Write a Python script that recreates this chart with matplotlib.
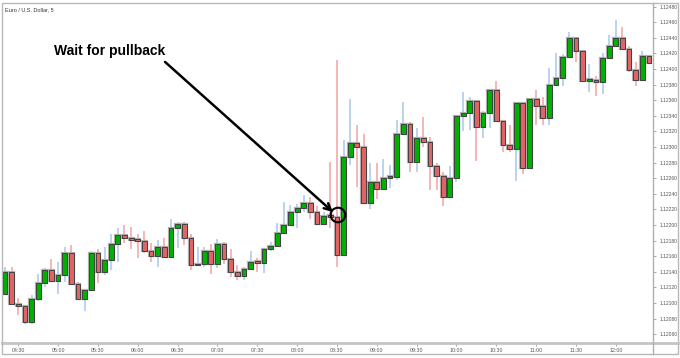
import matplotlib.pyplot as plt
from matplotlib.lines import Line2D
from matplotlib.patches import Rectangle
import numpy as np

# 5 minute EUR/USD candles, first bar 04:20
open_ = [1.12112, 1.12139, 1.12098, 1.12096, 1.12075, 1.12105, 1.12126, 1.12142, 1.12128, 1.12136,
         1.12164, 1.12124, 1.12105, 1.12117, 1.12164, 1.12139, 1.12155, 1.12175, 1.12187, 1.12183,
         1.12181, 1.12179, 1.12167, 1.12160, 1.12172, 1.12159, 1.12196, 1.12201, 1.12183, 1.12148,
         1.12150, 1.12167, 1.12150, 1.12175, 1.12156, 1.12139, 1.12134, 1.12143, 1.12152, 1.12151,
         1.12169, 1.12173, 1.12189, 1.12200, 1.12216, 1.12222, 1.12228, 1.12217, 1.12201, 1.12211,
         1.12210, 1.12162, 1.12287, 1.12305, 1.12300, 1.12228, 1.12255, 1.12246, 1.12260, 1.12261,
         1.12317, 1.12330, 1.12281, 1.12312, 1.12306, 1.12276, 1.12263, 1.12236, 1.12260, 1.12340,
         1.12344, 1.12359, 1.12326, 1.12343, 1.12373, 1.12333, 1.12302, 1.12297, 1.12356, 1.12273,
         1.12361, 1.12352, 1.12337, 1.12379, 1.12388, 1.12415, 1.12440, 1.12423, 1.12384, 1.12386,
         1.12383, 1.12414, 1.12429, 1.12439, 1.12426, 1.12399, 1.12386, 1.12417]
high = [1.12146, 1.12146, 1.12106, 1.12097, 1.12110, 1.12137, 1.12145, 1.12156, 1.12152, 1.12172,
        1.12174, 1.12127, 1.12117, 1.12166, 1.12169, 1.12172, 1.12188, 1.12196, 1.12200, 1.12197,
        1.12188, 1.12192, 1.12177, 1.12181, 1.12183, 1.12208, 1.12204, 1.12204, 1.12188, 1.12172,
        1.12172, 1.12175, 1.12182, 1.12178, 1.12169, 1.12149, 1.12146, 1.12167, 1.12157, 1.12169,
        1.12178, 1.12202, 1.12230, 1.12226, 1.12227, 1.12238, 1.12236, 1.12224, 1.12217, 1.12281,
        1.12411, 1.12309, 1.12362, 1.12328, 1.12317, 1.12279, 1.12279, 1.12284, 1.12277, 1.12335,
        1.12358, 1.12332, 1.12324, 1.12338, 1.12313, 1.12280, 1.12268, 1.12275, 1.12340, 1.12370,
        1.12364, 1.12359, 1.12346, 1.12373, 1.12384, 1.12333, 1.12328, 1.12356, 1.12356, 1.12361,
        1.12373, 1.12364, 1.12401, 1.12420, 1.12419, 1.12447, 1.12440, 1.12423, 1.12406, 1.12391,
        1.12420, 1.12444, 1.12463, 1.12454, 1.12429, 1.12409, 1.12423, 1.12418]
low = [1.12110, 1.12098, 1.12085, 1.12073, 1.12073, 1.12102, 1.12120, 1.12128, 1.12111, 1.12127,
       1.12124, 1.12104, 1.12089, 1.12117, 1.12126, 1.12136, 1.12142, 1.12153, 1.12177, 1.12169,
       1.12158, 1.12164, 1.12152, 1.12146, 1.12159, 1.12159, 1.12170, 1.12174, 1.12142, 1.12148,
       1.12146, 1.12137, 1.12145, 1.12150, 1.12133, 1.12129, 1.12129, 1.12143, 1.12140, 1.12138,
       1.12167, 1.12173, 1.12189, 1.12200, 1.12196, 1.12216, 1.12207, 1.12201, 1.12201, 1.12196,
       1.12146, 1.12162, 1.12277, 1.12249, 1.12228, 1.12221, 1.12233, 1.12245, 1.12247, 1.12258,
       1.12317, 1.12268, 1.12268, 1.12300, 1.12245, 1.12245, 1.12224, 1.12236, 1.12255, 1.12320,
       1.12322, 1.12282, 1.12311, 1.12324, 1.12333, 1.12293, 1.12293, 1.12256, 1.12265, 1.12273,
       1.12328, 1.12328, 1.12328, 1.12378, 1.12378, 1.12415, 1.12409, 1.12384, 1.12370, 1.12365,
       1.12368, 1.12414, 1.12429, 1.12426, 1.12396, 1.12378, 1.12386, 1.12408]
close = [1.12139, 1.12099, 1.12096, 1.12075, 1.12105, 1.12126, 1.12142, 1.12128, 1.12136, 1.12164,
         1.12124, 1.12105, 1.12117, 1.12164, 1.12139, 1.12155, 1.12175, 1.12187, 1.12183, 1.12181,
         1.12179, 1.12167, 1.12160, 1.12172, 1.12159, 1.12196, 1.12201, 1.12183, 1.12148, 1.12150,
         1.12167, 1.12150, 1.12175, 1.12156, 1.12139, 1.12134, 1.12143, 1.12152, 1.12151, 1.12169,
         1.12173, 1.12189, 1.12200, 1.12216, 1.12222, 1.12228, 1.12217, 1.12201, 1.12211, 1.12210,
         1.12162, 1.12287, 1.12305, 1.12300, 1.12228, 1.12255, 1.12246, 1.12260, 1.12261, 1.12317,
         1.12330, 1.12281, 1.12312, 1.12306, 1.12276, 1.12263, 1.12236, 1.12260, 1.12340, 1.12344,
         1.12359, 1.12326, 1.12343, 1.12373, 1.12333, 1.12302, 1.12297, 1.12356, 1.12273, 1.12361,
         1.12352, 1.12337, 1.12379, 1.12388, 1.12415, 1.12440, 1.12423, 1.12384, 1.12386, 1.12383,
         1.12414, 1.12429, 1.12439, 1.12426, 1.12399, 1.12386, 1.12417, 1.12408]

time_labels = ['04:30', '05:00', '05:30', '06:00', '06:30', '07:00', '07:30', '08:00',
               '08:30', '09:00', '09:30', '10:00', '10:30', '11:00', '11:30', '12:00']
price_ticks = [1.12060, 1.12080, 1.12100, 1.12120, 1.12140, 1.12160, 1.12180, 1.12200, 1.12220,
               1.12240, 1.12260, 1.12280, 1.12300, 1.12320, 1.12340, 1.12360, 1.12380, 1.12400,
               1.12420, 1.12440, 1.12460, 1.12480]

o = np.array(open_)
h = np.array(high)
l = np.array(low)
c = np.array(close)
x = np.arange(len(o))
up = c >= o

green = '#00b000'
red = '#e06464'

fig = plt.figure(figsize=(6.8, 3.58), dpi=100)
ax = fig.add_axes([2 / 680, 1 - 343 / 358, 651 / 680, 340 / 358])

ax.vlines(x[up], l[up], h[up], color='#a8c8ea', lw=1.1, zorder=1)
ax.vlines(x[~up], l[~up], h[~up], color='#f2a2a2', lw=1.1, zorder=1)

body_bot = np.minimum(o, c)
body_h = np.maximum(np.abs(c - o), 0.000025)
ax.bar(x, body_h, bottom=body_bot, width=0.72,
       color=np.where(up, green, red), edgecolor='#b0b0b0', linewidth=1.6, zorder=2)
ax.bar(x, body_h, bottom=body_bot, width=0.72,
       color=np.where(up, green, red), edgecolor='#404040', linewidth=0.7, zorder=3)

ax.set_xlim(-0.45, 97.6)
ax.set_ylim(1.120486, 1.124845)

ax.set_xticks(np.arange(2, 98, 6))
ax.set_xticklabels(time_labels, family='Liberation Sans')
ax.set_yticks(price_ticks)
ax.set_yticklabels(['%.5f' % p for p in price_ticks], family='Liberation Sans')
ax.yaxis.tick_right()
ax.tick_params(axis='y', labelsize=3.6, labelcolor='#555555', color='#999999',
               length=2.5, width=0.6, pad=2)
ax.tick_params(axis='x', labelsize=3.8, labelcolor='#555555', color='#999999',
               length=2, width=0.6, pad=1.5)

for side in ['top', 'left']:
    ax.spines[side].set_visible(False)
ax.spines['right'].set_color('#b0b0b0')
ax.spines['right'].set_linewidth(1.0)
ax.spines['bottom'].set_color('#c4c4c4')
ax.spines['bottom'].set_linewidth(2.0)

# annotation
ax.text(15.8, 1.12423, 'Wait for pullback', fontsize=10, fontweight='bold',
        family='Liberation Sans', ha='center', va='center', color='black')
ax.annotate('', xy=(49.4, 1.122165), xytext=(24.1, 1.12409),
            arrowprops=dict(arrowstyle='->', color='black', lw=1.8,
                            mutation_scale=12, shrinkA=0, shrinkB=0))
ax.scatter([50.15], [1.122127], s=110, facecolors='none', edgecolors='black',
           linewidths=1.5, zorder=5)

# outer frame and title
fig.patches.append(Rectangle((2 / 680, 1 - 354 / 358), 676 / 680, 351 / 358,
                             transform=fig.transFigure, fill=False,
                             edgecolor='#b8b8b8', lw=1.0))
fig.lines.append(Line2D([653 / 680, 678 / 680], [1 - 343 / 358, 1 - 343 / 358],
                        transform=fig.transFigure, color='#c4c4c4', lw=2.0))
fig.lines.append(Line2D([653 / 680, 653 / 680], [1 - 354 / 358, 1 - 343 / 358],
                        transform=fig.transFigure, color='#b0b0b0', lw=1.0))
fig.text(5 / 680, 1 - 10 / 358, 'Euro / U.S. Dollar, 5', fontsize=4.0,
         family='Liberation Sans', color='#333333', ha='left', va='center')

fig.savefig('out.png', dpi=100)
